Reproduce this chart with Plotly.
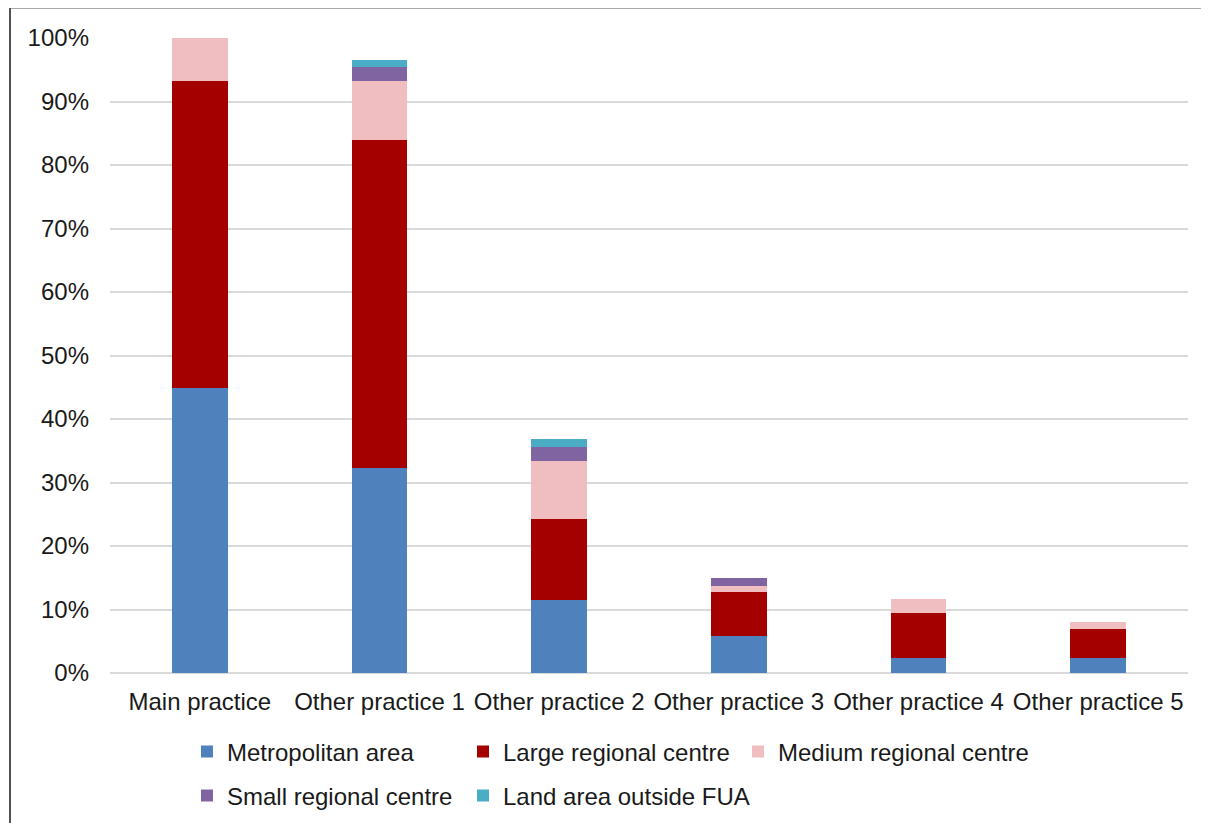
import plotly.graph_objects as go

categories = ["Main practice", "Other practice 1", "Other practice 2",
              "Other practice 3", "Other practice 4", "Other practice 5"]
metropolitan = [44.9, 32.3, 11.5, 5.8, 2.3, 2.3]
large_regional = [48.3, 51.6, 12.75, 7.0, 7.1, 4.6]
medium_regional = [6.8, 9.3, 9.1, 0.9, 2.2, 1.2]
small_regional = [0.0, 2.3, 2.3, 1.3, 0.0, 0.0]
outside_fua = [0.0, 1.1, 1.2, 0.0, 0.0, 0.0]

series = [
    ("Metropolitan area", metropolitan, "#4F81BD"),
    ("Large regional centre", large_regional, "#A50000"),
    ("Medium regional centre", medium_regional, "#F0BEC0"),
    ("Small regional centre", small_regional, "#8064A2"),
    ("Land area outside FUA", outside_fua, "#4BACC6"),
]

# page is offset by 8px body margin; margins compensate
L, R, T, B = 102, 29, 30, 158
PW, PH = 1209 - L - R, 823 - T - B

# legend item placement (left edge in figure px, row y in paper units)
legend_pos = [(179, -0.1244), (455, -0.1244), (730, -0.1244),
              (179, -0.1937), (455, -0.1937)]

font = dict(family="Liberation Sans, Arial, sans-serif", size=24, color="#1a1a1a")

fig = go.Figure()
legends = {}
for i, (name, vals, color) in enumerate(series):
    key = "legend" if i == 0 else f"legend{i + 1}"
    fig.add_trace(go.Bar(x=categories, y=vals, name=name, marker_color=color,
                         marker_line_width=0, legend=key))
    lx, ly = legend_pos[i]
    legends[key] = dict(orientation="h", xanchor="left", yanchor="middle",
                        x=(lx - L) / PW, y=ly, font=font,
                        bgcolor="rgba(0,0,0,0)", itemclick=False)

fig.update_layout(
    barmode="stack",
    bargap=0.69,
    width=1209, height=823,
    margin=dict(l=L, r=R, t=T, b=B),
    plot_bgcolor="white", paper_bgcolor="white",
    font=font,
    showlegend=True,
    xaxis=dict(showgrid=False, showline=False, ticks="", ticklabelstandoff=12,
               tickfont=font),
    yaxis=dict(range=[0, 100], dtick=10, ticksuffix="%", showgrid=True,
               gridcolor="#d9d9d9", gridwidth=2, zeroline=True,
               zerolinecolor="#d9d9d9", zerolinewidth=2,
               showline=False, ticks="", ticklabelstandoff=20, tickfont=font),
    shapes=[
        dict(type="line", xref="paper", yref="paper",
             x0=(2 - L) / PW, x1=(2 - L) / PW, y0=(PH + T) / PH, y1=-B / PH - 0.05,
             line=dict(color="#1a1a1a", width=1.5)),
        dict(type="line", xref="paper", yref="paper",
             x0=(2 - L) / PW, x1=1 + R / PW + 0.05, y0=(PH + T) / PH, y1=(PH + T) / PH,
             line=dict(color="#555555", width=1)),
    ],
    **legends,
)

fig.write_html("out.html")
